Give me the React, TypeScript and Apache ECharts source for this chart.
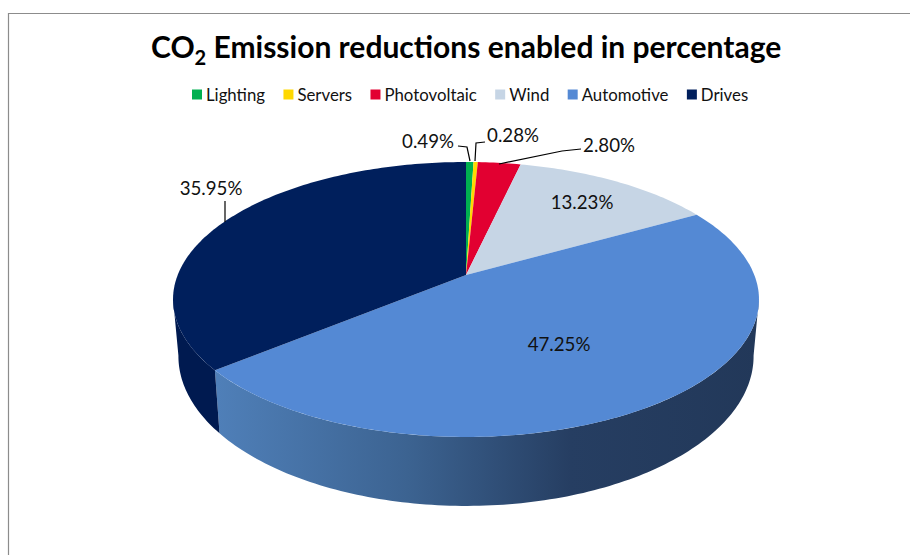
import React, { useEffect, useRef } from "react";
import * as echarts from "echarts";

const categories = ["Lighting", "Servers", "Photovoltaic", "Wind", "Automotive", "Drives"];
const values = [0.49, 0.28, 2.8, 13.23, 47.25, 35.95];
const colors = ["#00B050", "#FFD800", "#E20031", "#C6D5E5", "#5489D4", "#001F5C"];
const sideColors = ["#008C40", "#CCAC00", "#B50027", "#9EAAB7", "#5489D4", "#001A50"];

// label anchor positions (centre of text) and leader lines
const labelPos: number[][] = [[428, 141], [513, 135], [609, 145], [582, 202], [559, 344], [211, 188]];
const leaders: (number[][] | null)[] = [
  [[458, 146], [467, 147], [470, 161]],
  [[485, 142], [476, 143], [475, 161]],
  [[581, 149], [562, 151], [499, 164]],
  null,
  null,
  [[225, 201], [225, 222]],
];

const CX = 466;
const K = 0.178;
const top = { cy: 275, r: 288.3, s: 133.1 };
const bottom = { cy: 329.5, r: 283, s: 145 };
const FRONT_FROM = 100;
const FRONT_TO = 260;
const FONT = "Lato, 'Open Sans', sans-serif";

const project = (deg: number, p: { cy: number; r: number; s: number }) => {
  const a = (deg * Math.PI) / 180;
  const u = Math.sin(a);
  const v = Math.cos(a);
  const w = 1 + K * v;
  return [CX + (p.r * u) / w, p.cy - (p.s * v) / w];
};

const arc = (from: number, to: number, p: { cy: number; r: number; s: number }) => {
  const n = Math.max(2, Math.ceil(Math.abs(to - from)));
  const pts: number[][] = [];
  for (let i = 0; i <= n; i++) pts.push(project(from + ((to - from) * i) / n, p));
  return pts;
};

const total = values.reduce((a, b) => a + b, 0);
const starts: number[] = [];
values.reduce((acc, v, i) => {
  starts[i] = (acc / total) * 360;
  return acc + v;
}, 0);

const sideGradient = new echarts.graphic.LinearGradient(
  218, 0, 760, 0,
  [
    { offset: 0, color: "#4F7FB8" },
    { offset: 0.35, color: "#3C6391" },
    { offset: 0.65, color: "#263E62" },
    { offset: 1, color: "#223859" },
  ],
  true
);

const sideSeries = {
  type: "custom",
  coordinateSystem: "none",
  silent: true,
  z: 2,
  data: values.map((v, i) => [i, v]),
  renderItem: (_: any, api: any) => {
    const i = api.value(0);
    const a0 = Math.max(starts[i], FRONT_FROM);
    const a1 = Math.min(starts[i] + (api.value(1) / total) * 360, FRONT_TO);
    if (a1 <= a0) return null;
    const fill = categories[i] === "Automotive" ? sideGradient : sideColors[i];
    return {
      type: "polygon",
      shape: { points: [...arc(a0, a1, top), ...arc(a1, a0, bottom)] },
      style: { fill },
    };
  },
};

const sliceSeries = categories.map((name, idx) => ({
  type: "custom",
  name,
  coordinateSystem: "none",
  silent: true,
  z: 3,
  itemStyle: { color: colors[idx] },
  data: [[idx, values[idx]]],
  renderItem: (_: any, api: any) => {
    const i = api.value(0);
    const v = api.value(1);
    const a0 = starts[i];
    const a1 = a0 + (v / total) * 360;
    const children: any[] = [
      {
        type: "polygon",
        shape: { points: [[CX, top.cy], ...arc(a0, a1, top)] },
        style: { fill: colors[i] },
      },
    ];
    const lead = leaders[i];
    if (lead) {
      children.push({
        type: "polyline",
        z2: 5,
        shape: { points: lead },
        style: { fill: "none", stroke: "#000", lineWidth: 1.2 },
      });
    }
    children.push({
      type: "text",
      z2: 6,
      x: labelPos[i][0],
      y: labelPos[i][1],
      style: {
        text: v.toFixed(2) + "%",
        font: `18.7px ${FONT}`,
        fill: "#111",
        align: "center",
        verticalAlign: "middle",
      },
    });
    return { type: "group", children };
  },
}));

export default function App() {
  const ref = useRef<HTMLDivElement>(null);
  useEffect(() => {
    const chart = echarts.init(ref.current!, null, { renderer: "svg" });
    chart.setOption({
      animation: false,
      backgroundColor: "#fff",
      title: {
        text: "{a|CO}{b|2}{a| Emission reductions enabled in percentage}",
        left: 146,
        top: 20,
        textStyle: {
          rich: {
            a: { fontFamily: FONT, fontWeight: "bold", fontSize: 30, color: "#000", lineHeight: 40 },
            b: { fontFamily: FONT, fontWeight: "bold", fontSize: 20, color: "#000", padding: [22, 0, 0, 0] },
          },
        },
      },
      legend: {
        data: categories,
        top: 81,
        left: 187,
        itemWidth: 10,
        itemHeight: 10,
        itemGap: 18.4,
        icon: "rect",
        selectedMode: false,
        textStyle: { fontFamily: FONT, fontSize: 16.8, color: "#111", padding: [0, 0, 0, -1] },
      },
      graphic: [
        {
          type: "polyline",
          silent: true,
          shape: { points: [[8.5, 555], [8.5, 13.5], [910, 13.5]] },
          style: { fill: "none", stroke: "#8C8C8C", lineWidth: 1.2 },
        },
      ],
      series: [sideSeries, ...sliceSeries],
    });
    return () => chart.dispose();
  }, []);
  return <div ref={ref} style={{ position: "absolute", left: 0, top: 0, width: 910, height: 555 }} />;
}
